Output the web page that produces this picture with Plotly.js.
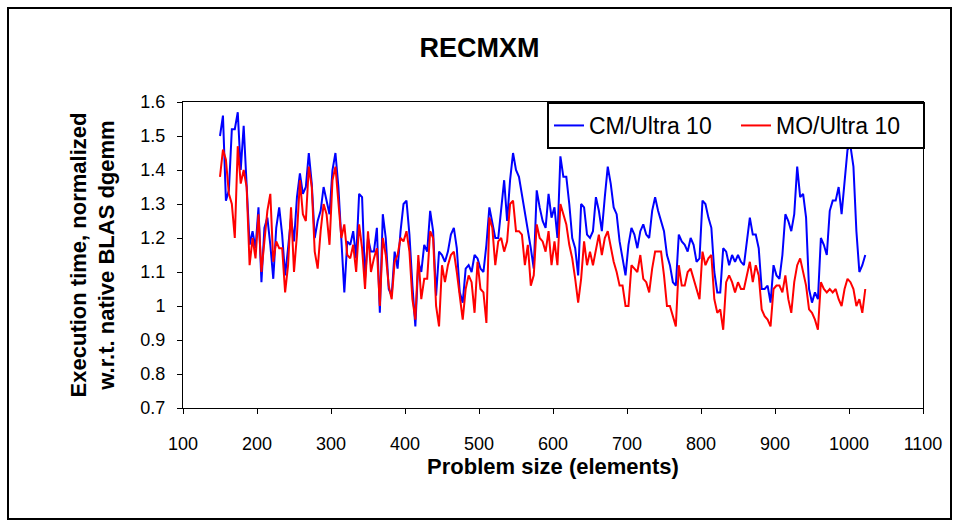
<!DOCTYPE html>
<html>
<head>
<meta charset="utf-8">
<script src="https://cdn.plot.ly/plotly-3.0.1.min.js"></script>
<style>
  html, body { margin: 0; padding: 0; background: #fff; }
  #wrap { position: relative; width: 959px; height: 526px; }
  #chart { position: absolute; left: 0; top: 0; width: 959px; height: 526px; }
  #frame { position: absolute; left: 7px; top: 7px; width: 941px; height: 509px; border: 2px solid #000; pointer-events: none; }
</style>
</head>
<body>
<div id="wrap">
  <div id="chart"></div>
  <div id="frame"></div>
</div>
<script>
// Problem sizes: first size and spacing of the sampled readings
const sizeStart = 150;
const sizeStep = 4;

const seriesNames = ["CM/Ultra 10", "MO/Ultra 10"];

const cmUltra10 = [
  1.50, 1.56, 1.31, 1.34, 1.52, 1.52, 1.57, 1.40, 1.53, 1.37,
  1.18, 1.22, 1.17, 1.29, 1.07, 1.23, 1.26, 1.18, 1.08, 1.23,
  1.29, 1.21, 1.09, 1.17, 1.26, 1.19, 1.32, 1.39, 1.33, 1.35,
  1.45, 1.36, 1.20, 1.25, 1.28,
  1.35, 1.31, 1.27, 1.40, 1.45, 1.35, 1.21, 1.04, 1.19, 1.18,
  1.22, 1.14, 1.33, 1.32, 1.08, 1.20, 1.16, 1.16, 1.23, 0.98,
  1.27, 1.20, 1.05, 1.03, 1.16, 1.11, 1.22, 1.30, 1.31, 1.21,
  1.06, 0.94, 1.13, 1.10, 1.18, 1.16, 1.28, 1.22, 1.03, 1.16,
  1.15, 1.13, 1.16, 1.21, 1.23, 1.17, 1.04, 1.01, 1.11, 1.12,
  1.10, 1.15, 1.14, 1.11, 1.10, 1.18, 1.29, 1.24, 1.20, 1.20,
  1.28, 1.37, 1.25, 1.37, 1.45, 1.40, 1.38, 1.33, 1.27, 1.22,
  1.17, 1.11, 1.34, 1.29, 1.25, 1.23, 1.33, 1.26, 1.29, 1.20,
  1.44, 1.38, 1.38, 1.30, 1.20, 1.17, 1.09, 1.30, 1.29, 1.21,
  1.20, 1.22, 1.32, 1.28, 1.22, 1.32, 1.41, 1.36, 1.29, 1.27,
  1.19, 1.14, 1.09, 1.18, 1.23, 1.21, 1.17, 1.22, 1.24, 1.21,
  1.20, 1.28, 1.32, 1.28, 1.25, 1.22, 1.15, 1.12, 1.07, 1.06,
  1.21, 1.19, 1.18, 1.16, 1.20, 1.18, 1.13, 1.14, 1.31, 1.30,
  1.26, 1.23, 1.10, 1.04, 1.04, 1.17, 1.16, 1.12, 1.15, 1.13,
  1.15, 1.13, 1.12, 1.19, 1.26, 1.21, 1.21, 1.17, 1.05, 1.05,
  1.06, 1.01, 1.12, 1.09, 1.08, 1.15, 1.27, 1.25, 1.22, 1.27,
  1.41, 1.32, 1.33, 1.26, 1.05, 1.01, 1.04, 1.02, 1.20, 1.18,
  1.15, 1.28, 1.31, 1.31, 1.35, 1.27, 1.36, 1.46, 1.47, 1.41,
  1.22, 1.10, 1.12, 1.15
];

const moUltra10 = [
  1.38, 1.46, 1.43, 1.33, 1.30, 1.20, 1.47, 1.36, 1.40, 1.35,
  1.12, 1.20, 1.14, 1.27, 1.10, 1.20, 1.28, 1.33, 1.13, 1.19,
  1.17, 1.17, 1.04, 1.12, 1.29, 1.10, 1.21, 1.37, 1.27, 1.25,
  1.41, 1.35, 1.16, 1.11, 1.22,
  1.30, 1.27, 1.18, 1.37, 1.41, 1.30, 1.20, 1.24, 1.15, 1.14,
  1.18, 1.10, 1.24, 1.17, 1.05, 1.22, 1.10, 1.14, 1.17, 1.00,
  1.20, 1.15, 1.06, 1.02, 1.13, 1.15, 1.20, 1.19, 1.22, 1.16,
  1.02, 0.96, 1.15, 1.02, 1.08, 1.08, 1.22, 1.20, 1.00, 0.94,
  1.12, 1.07, 1.12, 1.15, 1.16, 1.10, 1.02, 0.96, 1.05, 1.09,
  1.07, 0.98, 1.13, 1.05, 1.04, 0.95, 1.26, 1.23, 1.12, 1.19,
  1.20, 1.16, 1.19, 1.30, 1.31, 1.22, 1.22, 1.21, 1.12, 1.18,
  1.06, 1.09, 1.24, 1.20, 1.19, 1.16, 1.22, 1.12, 1.19, 1.12,
  1.30, 1.27, 1.24, 1.18, 1.14, 1.08, 1.01, 1.08, 1.19, 1.12,
  1.16, 1.12, 1.16, 1.21, 1.15, 1.20, 1.22, 1.17, 1.13, 1.10,
  1.06, 1.06, 1.00, 1.00, 1.12, 1.11, 1.10, 1.15, 1.08, 1.07,
  1.04, 1.11, 1.16, 1.16, 1.16, 1.09, 1.00, 1.00, 0.97, 0.94,
  1.12, 1.06, 1.06, 1.10, 1.11, 1.08, 1.05, 1.02, 1.16, 1.12,
  1.14, 1.15, 1.02, 0.98, 0.99, 0.93, 1.07, 1.09, 1.07, 1.04,
  1.07, 1.05, 1.05, 1.09, 1.13, 1.07, 1.12, 1.09, 0.99, 0.97,
  0.96, 0.94, 1.05, 1.06, 1.06, 1.04, 1.09, 1.02, 0.98, 1.07,
  1.12, 1.14, 1.10, 1.06, 0.99, 0.98, 0.96, 0.93, 1.07, 1.05,
  1.04, 1.05, 1.04, 1.05, 1.02, 1.00, 1.05, 1.08, 1.07, 1.05,
  1.00, 1.02, 0.98, 1.05
];

const xTickVals = [100, 200, 300, 400, 500, 600, 700, 800, 900, 1000, 1100];
const yTickVals = [0.7, 0.8, 0.9, 1.0, 1.1, 1.2, 1.3, 1.4, 1.5, 1.6];

const traces = [
  {
    type: "scatter", mode: "lines", name: seriesNames[0],
    x0: sizeStart, dx: sizeStep, y: cmUltra10,
    line: { color: "#0000ff", width: 2 }
  },
  {
    type: "scatter", mode: "lines", name: seriesNames[1],
    x0: sizeStart, dx: sizeStep, y: moUltra10,
    line: { color: "#ff0000", width: 2 }
  }
];

const font = "Liberation Sans, Arial, sans-serif";

const layout = {
  width: 959, height: 526,
  margin: { l: 183, r: 36, t: 102, b: 118, pad: 0 },
  paper_bgcolor: "#ffffff", plot_bgcolor: "#ffffff",
  font: { family: font, color: "#000", size: 18 },
  title: {
    text: "<b>RECMXM</b>",
    font: { family: font, size: 27, color: "#000" },
    x: 0.5, xanchor: "center", xref: "container",
    y: 1 - 48 / 526, yanchor: "middle", yref: "container"
  },
  showlegend: true,
  legend: {
    orientation: "h",
    x: (547 - 183) / 740, xanchor: "left",
    y: 1.0, yanchor: "top",
    bgcolor: "#ffffff", bordercolor: "#000", borderwidth: 2,
    font: { family: font, size: 23, color: "#000" },
    entrywidth: 142, entrywidthmode: "pixels",
    traceorder: "normal"
  },
  xaxis: {
    range: [100, 1100], tickvals: xTickVals,
    showgrid: false, zeroline: false,
    showline: true, linecolor: "#000", linewidth: 1, mirror: true,
    ticks: "outside", ticklen: 5, tickcolor: "#000", tickwidth: 1,
    ticklabelstandoff: 14,
    tickfont: { family: font, size: 18, color: "#000" },
    title: { text: "<b>Problem size (elements)</b>", font: { family: font, size: 22, color: "#000" }, standoff: 6 }
  },
  yaxis: {
    range: [0.7, 1.6], tickvals: yTickVals,
    showgrid: false, zeroline: false,
    showline: true, linecolor: "#000", linewidth: 1, mirror: true,
    ticks: "outside", ticklen: 5, tickcolor: "#000", tickwidth: 1,
    ticklabelstandoff: 8,
    tickfont: { family: font, size: 18, color: "#000" },
    title: { text: "<b>Execution time, normalized<br>w.r.t. native BLAS dgemm</b>", font: { family: font, size: 22, color: "#000" }, standoff: 19 }
  }
};

Plotly.newPlot("chart", traces, layout, { staticPlot: true, displayModeBar: false });
</script>
</body>
</html>
